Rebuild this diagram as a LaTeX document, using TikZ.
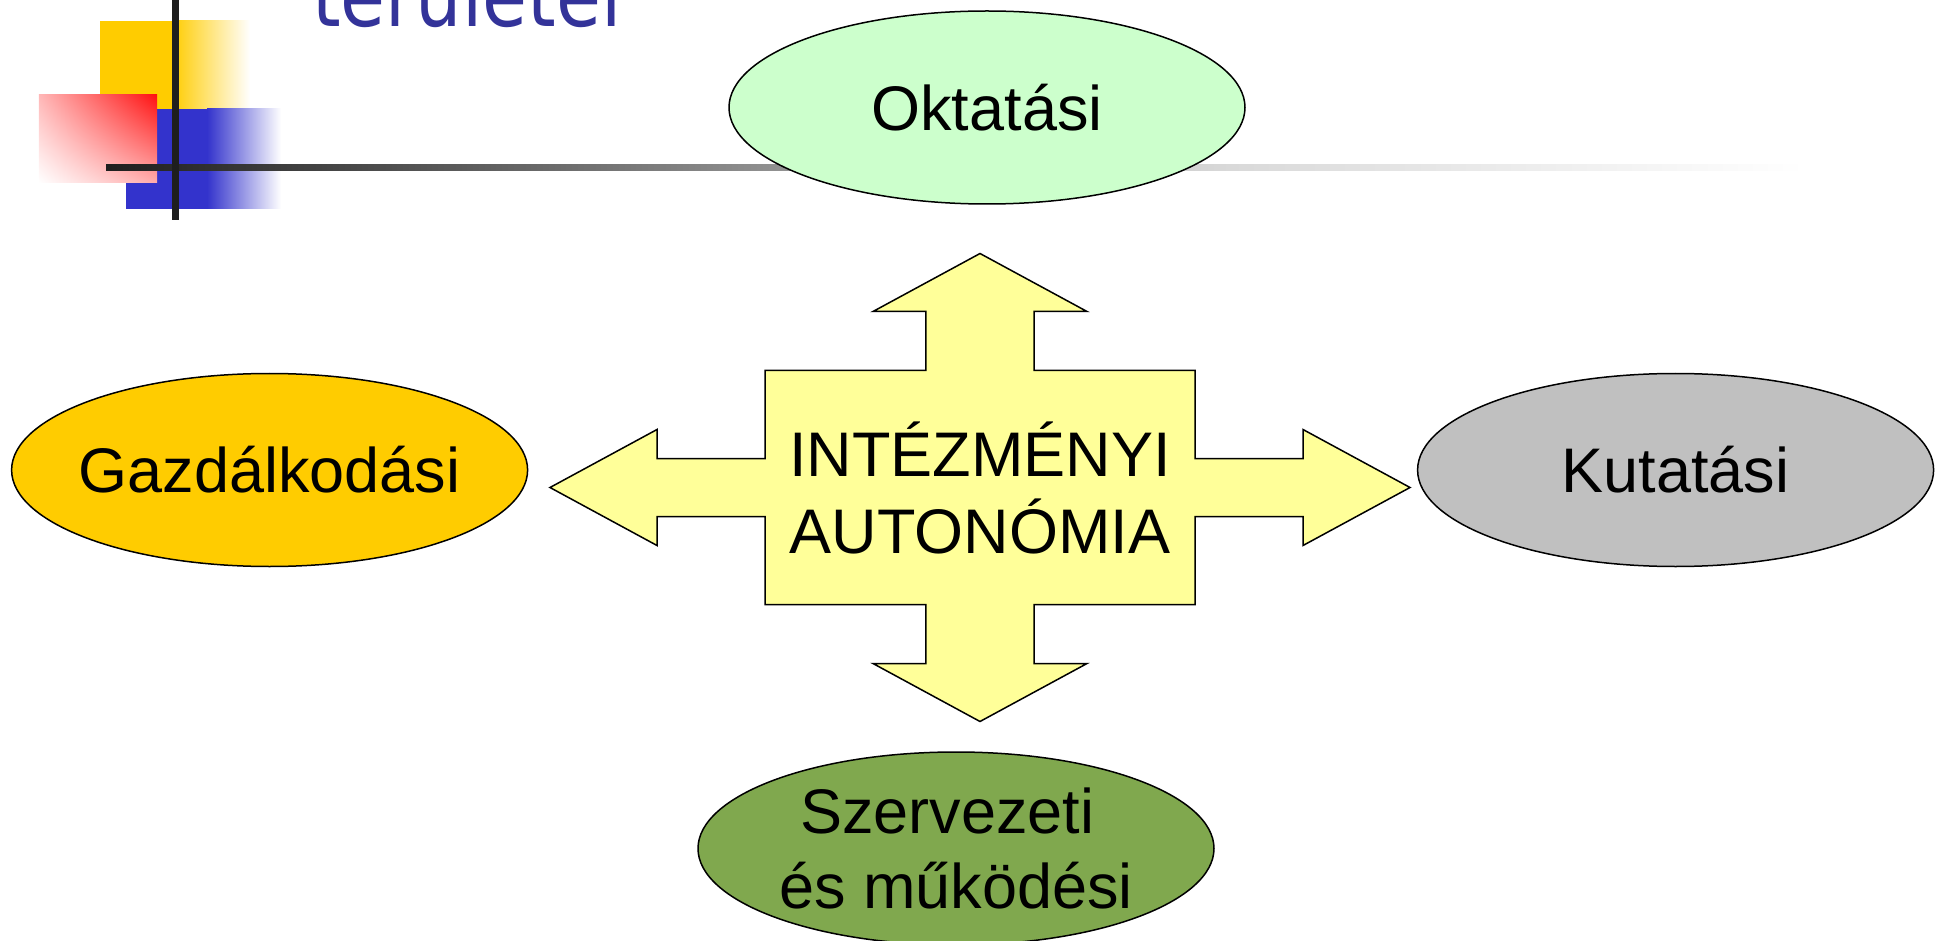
\documentclass[tikz,border=0pt]{standalone}
\usepackage{fontspec}
\setmainfont{Liberation Sans}
\newfontfamily\titlefont{DejaVu Sans}
\usetikzlibrary{shapes.geometric,shadings}
\definecolor{oktcol}{HTML}{CCFFCC}
\definecolor{gazdcol}{HTML}{FFCC00}
\definecolor{kutcol}{HTML}{C0C0C0}
\definecolor{szervcol}{RGB}{128,168,78}
\definecolor{arrowcol}{HTML}{FFFF99}
\definecolor{titlecol}{HTML}{333399}
\definecolor{sqyellow}{HTML}{FFCC00}
\definecolor{sqblue}{HTML}{3333CC}
\definecolor{sqred}{HTML}{FF1010}
\definecolor{rulecol}{HTML}{1E1E1E}
\pgfdeclarehorizontalshading{rulefade}{100bp}{rgb(0bp)=(0.12,0.12,0.12); rgb(25bp)=(0.12,0.12,0.12); rgb(42.5bp)=(0.52,0.52,0.52); rgb(58bp)=(0.85,0.85,0.85); rgb(75bp)=(1,1,1); rgb(100bp)=(1,1,1)}
\begin{document}
\begin{tikzpicture}[x=1pt,y=-1pt,
  area/.style={ellipse, draw=black, line width=1.5pt, minimum width=516pt, minimum height=193pt,
    inner xsep=-70pt, inner ysep=0pt, font=\fontsize{63}{75}\selectfont, align=center},
  bigarrow/.style={draw=black, line width=1.5pt, fill=arrowcol, line join=miter},
  centertext/.style={font=\fontsize{63}{76.5}\selectfont, align=center, inner sep=0pt}]
\useasboundingbox (0,0) rectangle (1939,941);
\clip (0,0) rectangle (1939,941);
% title remnant
\node[anchor=base west, inner sep=0pt, text=titlecol, font=\titlefont\fontsize{86}{100}\selectfont] (title) at (312,27) {\scalebox{0.85}[1]{területei}};
% decorative squares
\fill[sqyellow] (100,21) rectangle (173,115);
\shade[left color=sqyellow, right color=white] (172,21) rectangle (250,115);
\fill[sqblue] (126,109) rectangle (208,209);
\shade[left color=sqblue, right color=white] (207,109) rectangle (281,209);
\shade[upper right=sqred, upper left=sqred!30, lower left=white, lower right=sqred!35] (38.8,94.3) rectangle (157,182.7);
% rules
\shade[shading=rulefade] (106,164.3) rectangle (1805,171);
\fill[rulecol] (171.9,0) rectangle (178.6,220);
% areas
\node[area, fill=oktcol] (okt) at (987,107.5) {Oktatási};
\node[area, fill=gazdcol] (gazd) at (269.6,470) {Gazdálkodási};
\node[area, fill=kutcol] (kut) at (1675.6,470) {Kutatási};
\node[area, fill=szervcol] (szerv) at (956,848.5) {Szervezeti\hbox{\ }\\és működési};
% central four-way arrow
\draw[bigarrow] (980,253.5) -- (1087,311.5) -- (1034.2,311.5) -- (1034.2,370.5) -- (1195,370.5)
  -- (1195,458.5) -- (1303,458.5) -- (1303,429.5) -- (1410,487.5) -- (1303,545.5) -- (1303,516.5)
  -- (1195,516.5) -- (1195,604.5) -- (1034.2,604.5) -- (1034.2,663.5) -- (1087,663.5) -- (980,721.5)
  -- (873,663.5) -- (925.8,663.5) -- (925.8,604.5) -- (765,604.5) -- (765,516.5) -- (657,516.5)
  -- (657,545.5) -- (550,487.5) -- (657,429.5) -- (657,458.5) -- (765,458.5) -- (765,370.5)
  -- (925.8,370.5) -- (925.8,311.5) -- (873,311.5) -- cycle;
\node[centertext] (auto) at (980,488) {INTÉZMÉNYI\\AUTONÓMIA};
\end{tikzpicture}
\end{document}
